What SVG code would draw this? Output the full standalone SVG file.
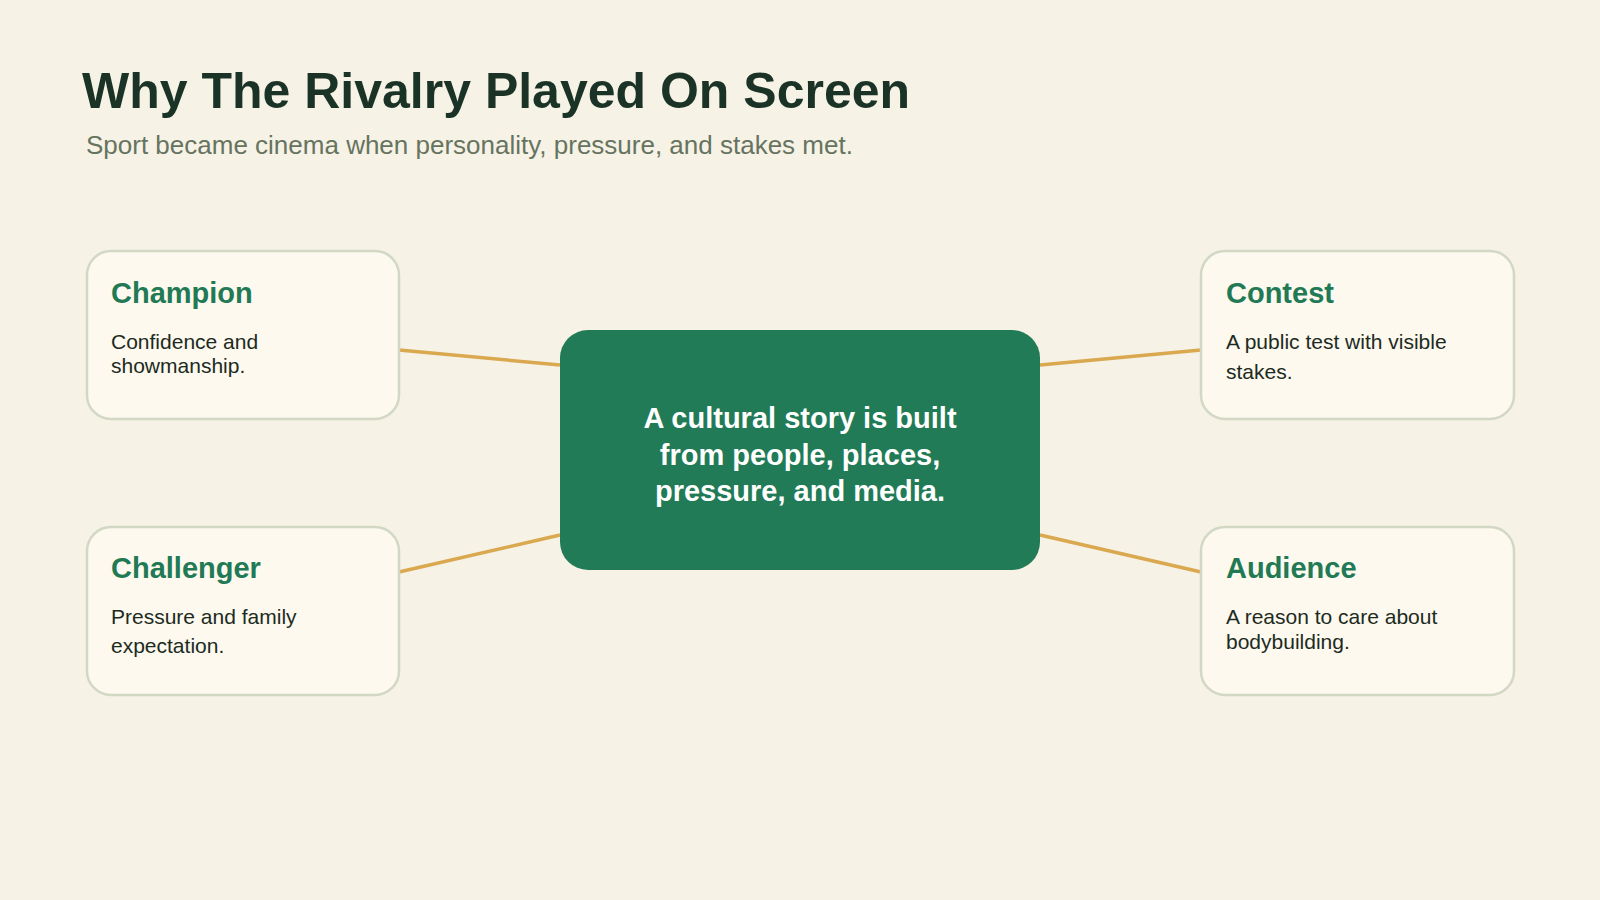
<svg xmlns="http://www.w3.org/2000/svg" width="1600" height="900" viewBox="0 0 1600 900">
<style>
.card{fill:#fdf9ee;stroke:#d2d8c4;stroke-width:2.5}
.h{font-family:"Liberation Sans",Arial,sans-serif;font-weight:bold;font-size:29px;fill:#217a55}
.b{font-family:"Liberation Sans",Arial,sans-serif;font-size:21px;fill:#1c2b22}
.c{font-family:"Liberation Sans",Arial,sans-serif;font-weight:bold;font-size:29px;fill:#ffffff;text-anchor:middle}
.l{stroke:#d9a84f;stroke-width:3.5;fill:none}
</style>
<rect width="1600" height="900" fill="#f6f2e6"/>
<text x="82" y="108" font-family="Liberation Sans,Arial,sans-serif" font-weight="bold" font-size="50" fill="#1a3326">Why The Rivalry Played On Screen</text>
<text x="86" y="154" font-family="Liberation Sans,Arial,sans-serif" font-size="26" fill="#66745f">Sport became cinema when personality, pressure, and stakes met.</text>
<g id="connectors">
<line class="l" x1="399" y1="350" x2="560" y2="365"/>
<line class="l" x1="399" y1="572" x2="560" y2="535"/>
<line class="l" x1="1040" y1="365" x2="1201" y2="350"/>
<line class="l" x1="1040" y1="535" x2="1201" y2="572"/>
</g>
<g id="center">
<rect x="560" y="330" width="480" height="240" rx="28" fill="#217b57"/>
<text class="c" x="800" y="428">A cultural story is built</text>
<text class="c" x="800" y="465">from people, places,</text>
<text class="c" x="800" y="501">pressure, and media.</text>
</g>
<g id="champion">
<rect class="card" x="87" y="251" width="312" height="168" rx="24"/>
<text class="h" x="111" y="303">Champion</text>
<text class="b" x="111" y="349">Confidence and</text>
<text class="b" x="111" y="373">showmanship.</text>
</g>
<g id="challenger">
<rect class="card" x="87" y="527" width="312" height="168" rx="24"/>
<text class="h" x="111" y="578">Challenger</text>
<text class="b" x="111" y="624">Pressure and family</text>
<text class="b" x="111" y="653">expectation.</text>
</g>
<g id="contest">
<rect class="card" x="1201" y="251" width="313" height="168" rx="24"/>
<text class="h" x="1226" y="303">Contest</text>
<text class="b" x="1226" y="349">A public test with visible</text>
<text class="b" x="1226" y="379">stakes.</text>
</g>
<g id="audience">
<rect class="card" x="1201" y="527" width="313" height="168" rx="24"/>
<text class="h" x="1226" y="578">Audience</text>
<text class="b" x="1226" y="624">A reason to care about</text>
<text class="b" x="1226" y="649">bodybuilding.</text>
</g>
</svg>
